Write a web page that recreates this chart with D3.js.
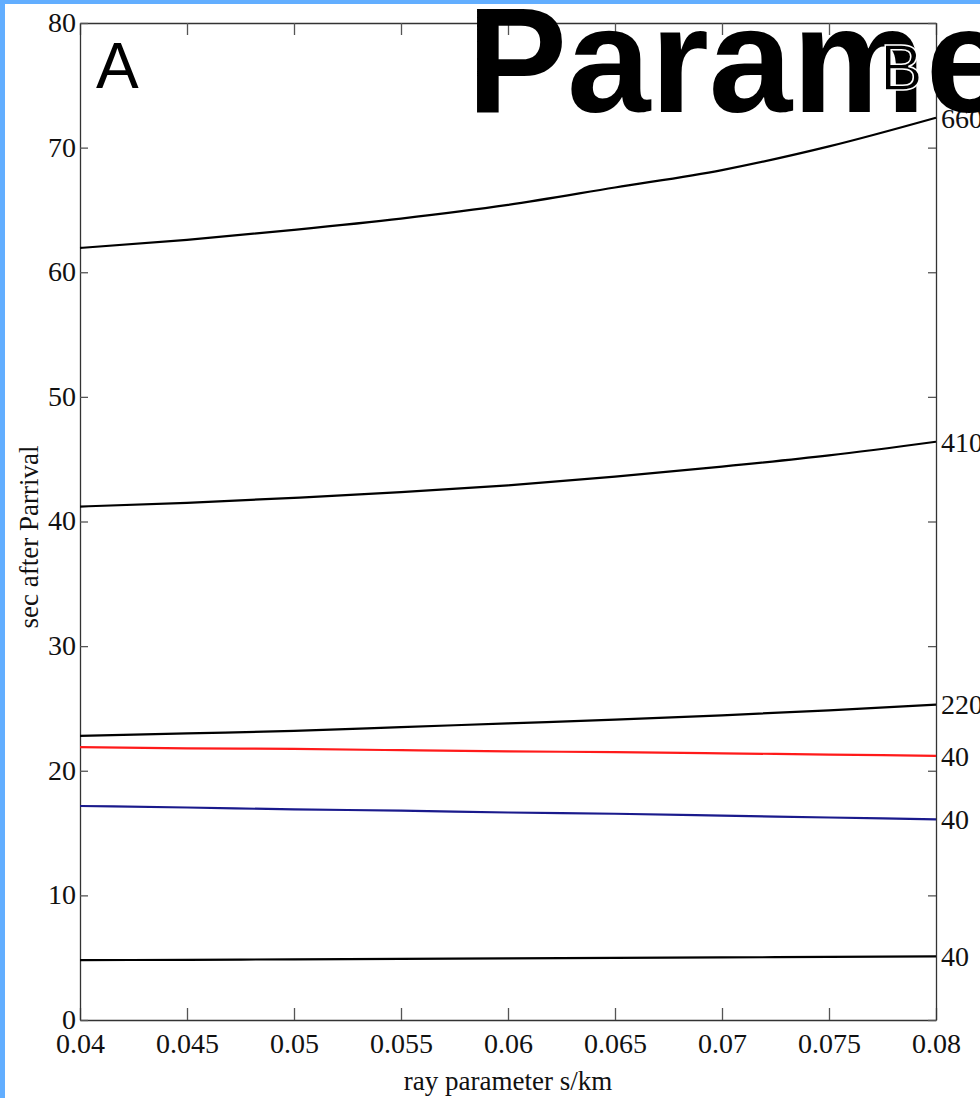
<!DOCTYPE html>
<html>
<head>
<meta charset="utf-8">
<script src="https://cdn.jsdelivr.net/npm/d3@7"></script>
<style>
  body { margin: 0; background: #fff; overflow: hidden; }
  .tick text { font-family: "Liberation Serif", "Times New Roman", serif; }
</style>
</head>
<body>
<div id="chart"></div>
<script>
// data
var rayParam = [0.04, 0.045, 0.05, 0.055, 0.06, 0.065, 0.07, 0.075, 0.08];
var d660 = [61.95, 62.6, 63.4, 64.3, 65.4, 66.8, 68.2, 70.1, 72.4];
var d410 = [41.2, 41.5, 41.9, 42.35, 42.9, 43.6, 44.4, 45.3, 46.4];
var d220 = [22.8, 23.0, 23.2, 23.5, 23.8, 24.1, 24.45, 24.85, 25.3];
var d40red = [21.9, 21.8, 21.75, 21.65, 21.55, 21.5, 21.4, 21.3, 21.2];
var d40blue = [17.17, 17.05, 16.9, 16.8, 16.65, 16.55, 16.4, 16.25, 16.1];
var d40 = [4.8, 4.83, 4.87, 4.9, 4.94, 4.98, 5.02, 5.06, 5.1];
var seriesNames = ['660', '410', '220', '40', '40', '40'];
var seriesColors = ['#000', '#000', '#000', '#ff1a1a', '#1a1a8c', '#000'];
var xTicks = [0.04, 0.045, 0.05, 0.055, 0.06, 0.065, 0.07, 0.075, 0.08];
var yTicks = [0, 10, 20, 30, 40, 50, 60, 70, 80];

const W = 980, H = 1098;
const LEFT = 80, RIGHT = 936, TOP = 23, BOTTOM = 1020;
const SERIF = '"Liberation Serif", "Times New Roman", serif';
const SANS = '"Liberation Sans", Arial, sans-serif';

var svg = d3.select('#chart').append('svg')
            .attr('width', W)
            .attr('height', H);

svg.append('rect').attr('width', W).attr('height', H).attr('fill', '#fff');

var x = d3.scaleLinear().domain([0.04, 0.08]).range([LEFT, RIGHT]);
var y = d3.scaleLinear().domain([0, 80]).range([BOTTOM, TOP]);

// axes (box style, ticks inward)
function styleAxis(g) {
  g.select('.domain').attr('stroke', '#333').attr('stroke-width', 1.3);
  g.selectAll('.tick line').attr('stroke', '#555').attr('stroke-width', 1.3);
  g.selectAll('.tick text').attr('fill', '#111').attr('font-size', 28);
}

svg.append('g')
   .attr('transform', 'translate(0,' + BOTTOM + ')')
   .call(d3.axisBottom(x).tickValues(xTicks).tickFormat(d => String(+d.toFixed(3)))
           .tickSizeInner(-12).tickSizeOuter(0).tickPadding(8))
   .call(styleAxis)
   .call(g => g.selectAll('.tick text').attr('dy', '0.71em').attr('y', 13));

svg.append('g')
   .attr('transform', 'translate(0,' + TOP + ')')
   .call(d3.axisTop(x).tickValues(xTicks).tickFormat('')
           .tickSizeInner(-12).tickSizeOuter(0))
   .call(styleAxis);

svg.append('g')
   .attr('transform', 'translate(' + LEFT + ',0)')
   .call(d3.axisLeft(y).tickValues(yTicks).tickFormat(d3.format('d'))
           .tickSizeInner(-8).tickSizeOuter(0))
   .call(styleAxis)
   .call(g => g.selectAll('.tick text').attr('x', -4).attr('dy', '0.3em'));

svg.append('g')
   .attr('transform', 'translate(' + RIGHT + ',0)')
   .call(d3.axisRight(y).tickValues(yTicks).tickFormat('')
           .tickSizeInner(-8).tickSizeOuter(0))
   .call(styleAxis);

// axis titles
svg.append('text')
   .attr('x', (LEFT + RIGHT) / 2)
   .attr('y', 1090)
   .attr('text-anchor', 'middle')
   .attr('font-family', SERIF)
   .attr('font-size', 27)
   .attr('fill', '#111')
   .text('ray parameter s/km');

svg.append('text')
   .attr('transform', 'translate(38,' + 537 + ') rotate(-90)')
   .attr('text-anchor', 'middle')
   .attr('font-family', SERIF)
   .attr('font-size', 27)
   .attr('fill', '#111')
   .text('sec after Parrival');

// curves
var series = [d660, d410, d220, d40red, d40blue, d40];
var line = d3.line()
             .x((d, i) => x(rayParam[i]))
             .y(d => y(d))
             .curve(d3.curveMonotoneX);

svg.selectAll('path.curve').data(series)
   .enter()
   .append('path')
   .classed('curve', true)
   .attr('d', line)
   .attr('fill', 'none')
   .attr('stroke', (d, i) => seriesColors[i])
   .attr('stroke-width', 2.2);

// labels at the right end of each curve
svg.selectAll('text.endlabel').data(series)
   .enter()
   .append('text')
   .classed('endlabel', true)
   .attr('x', RIGHT + 5)
   .attr('y', d => y(d[d.length - 1]))
   .attr('dy', '0.35em')
   .attr('font-family', SERIF)
   .attr('font-size', 28)
   .attr('fill', '#111')
   .text((d, i) => seriesNames[i]);

// panel letter A
svg.append('text')
   .attr('x', 96).attr('y', 88)
   .attr('font-family', SANS)
   .attr('font-size', 64)
   .attr('fill', '#000')
   .text('A');

// big slide title over the plot
svg.append('text')
   .attr('x', 467).attr('y', 112)
   .attr('font-family', SANS)
   .attr('font-weight', 'bold')
   .attr('font-size', 150)
   .attr('fill', '#000')
   .text('Parame');

// panel letter B sits on the title, outlined in white
svg.append('text')
   .attr('x', 880).attr('y', 90)
   .attr('font-family', SANS)
   .attr('font-size', 64)
   .attr('fill', '#000')
   .attr('stroke', '#fff')
   .attr('stroke-width', 1.5)
   .text('B');

// blue slide frame
svg.append('rect').attr('x', 0).attr('y', 0).attr('width', 5).attr('height', H).attr('fill', '#62aeff');
svg.append('rect').attr('x', 0).attr('y', 0).attr('width', W).attr('height', 4).attr('fill', '#62aeff');
</script>
</body>
</html>
